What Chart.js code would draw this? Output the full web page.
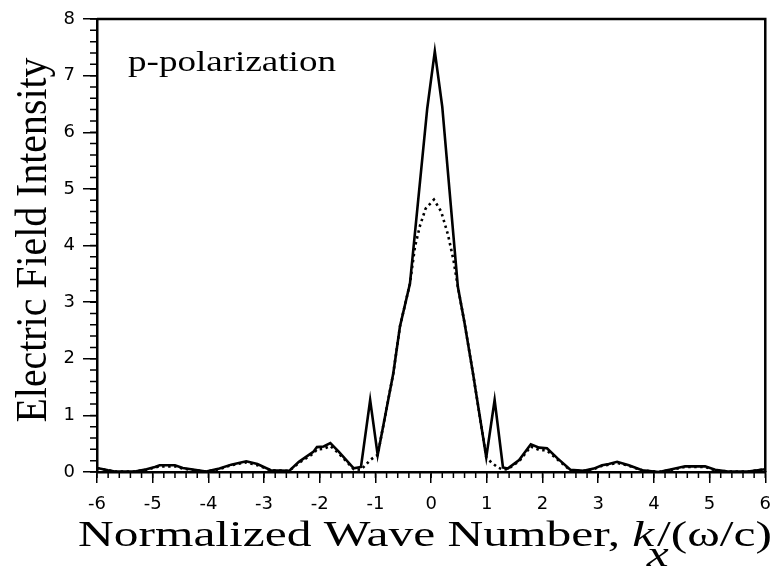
<!DOCTYPE html>
<html>
<head>
<meta charset="utf-8">
<script src="https://cdn.jsdelivr.net/npm/chart.js@4"></script>
<style>
  body { margin: 0; background: #fff; }
  #wrap { width: 782px; height: 569px; position: relative; }
</style>
</head>
<body>
<div id="wrap"><canvas id="fieldChart"></canvas></div>
<script>
// solid curve
const kSolid = [-6, -5.8, -5.68, -5.32, -5.11, -4.96, -4.875, -4.6, -4.46, -4.25, -4.04, -3.8, -3.59, -3.32, -3.12,
  -2.88, -2.55, -2.375, -2.11, -2.05, -1.93, -1.81, -1.66, -1.39, -1.26, -1.095, -0.96, -0.68, -0.56, -0.38,
  -0.07, 0.066, 0.2, 0.48, 0.6, 0.75, 0.99, 1.14, 1.29, 1.375, 1.58, 1.79, 1.94, 2.08, 2.27, 2.5, 2.74, 2.92,
  3.07, 3.19, 3.34, 3.55, 3.79, 4.09, 4.32, 4.56, 4.92, 5.1, 5.33, 5.69, 5.93, 6.0];
const eSolid = [0.07, 0.03, 0.01, 0.01, 0.05, 0.09, 0.12, 0.12, 0.07, 0.04, 0.01, 0.06, 0.13, 0.19, 0.14,
  0.03, 0.02, 0.18, 0.36, 0.44, 0.45, 0.51, 0.36, 0.065, 0.09, 1.27, 0.30, 1.74, 2.57, 3.33,
  6.42, 7.43, 6.45, 3.27, 2.63, 1.75, 0.26, 1.27, 0.08, 0.06, 0.21, 0.49, 0.43, 0.42, 0.24, 0.04, 0.02, 0.06,
  0.12, 0.14, 0.18, 0.12, 0.03, 0.0, 0.05, 0.10, 0.10, 0.04, 0.01, 0.01, 0.04, 0.05];

// dotted curve
const kDotted = [-6, -5.8, -5.68, -5.32, -5.11, -4.96, -4.875, -4.6, -4.46, -4.25, -4.04, -3.8, -3.59, -3.32, -3.12,
  -2.88, -2.55, -2.375, -2.11, -2.05, -1.93, -1.81, -1.66, -1.39, -1.26, -1.18, -1.095, -1.0, -0.96, -0.68,
  -0.56, -0.38, -0.29, -0.2, -0.1, 0.05, 0.18, 0.3, 0.4, 0.48, 0.6, 0.75, 0.99, 1.08, 1.2,
  1.29, 1.375, 1.58, 1.79, 1.94, 2.08, 2.27, 2.5, 2.74, 2.92, 3.07, 3.19, 3.34, 3.55, 3.79,
  4.09, 4.32, 4.56, 4.92, 5.1, 5.33, 5.69, 5.93, 6.0];
const eDotted = [0.07, 0.03, 0.01, 0.01, 0.04, 0.08, 0.10, 0.10, 0.06, 0.03, 0.01, 0.05, 0.12, 0.17, 0.12,
  0.03, 0.02, 0.16, 0.33, 0.40, 0.41, 0.46, 0.33, 0.05, 0.04, 0.12, 0.21, 0.28, 0.30, 1.74,
  2.57, 3.33, 3.98, 4.35, 4.65, 4.81, 4.6, 4.2, 3.75, 3.27, 2.63, 1.75, 0.26, 0.17, 0.08,
  0.04, 0.05, 0.19, 0.45, 0.39, 0.38, 0.22, 0.03, 0.02, 0.05, 0.11, 0.13, 0.16, 0.11, 0.03,
  0.0, 0.04, 0.09, 0.09, 0.03, 0.01, 0.01, 0.04, 0.05];

const xRange = [-6, 6];
const yRange = [0, 8];
const minorStep = 0.2;

const xTitle = ['Normalized Wave Number, ', 'k', 'x', '/(\u03c9/c)'];
const yTitle = 'Electric Field Intensity';
const panelLabel = 'p-polarization';

const toPoints = (ks, vs) => ks.map((k, i) => ({ x: k, y: vs[i] }));

const serif = '"Liberation Serif", "Times New Roman", serif';

// frame, minor ticks and the stretched serif texts
const decor = {
  id: 'decor',
  afterDraw(chart) {
    const ctx = chart.ctx;
    const a = chart.chartArea;
    const xs = chart.scales.x, ys = chart.scales.y;
    ctx.save();
    ctx.strokeStyle = '#000';
    ctx.lineWidth = 2.5;
    ctx.beginPath();
    ctx.moveTo(a.left, a.top); ctx.lineTo(a.right, a.top); ctx.lineTo(a.right, a.bottom);
    ctx.stroke();

    ctx.lineWidth = 1.5;
    ctx.beginPath();
    for (let v = xRange[0]; v <= xRange[1] + 1e-9; v += minorStep) {
      const px = xs.getPixelForValue(v);
      ctx.moveTo(px, a.bottom); ctx.lineTo(px, a.bottom + 6);
    }
    for (let v = yRange[0]; v <= yRange[1] + 1e-9; v += minorStep) {
      const py = ys.getPixelForValue(v);
      ctx.moveTo(a.left, py); ctx.lineTo(a.left - 7, py);
    }
    ctx.stroke();

    ctx.fillStyle = '#000';
    ctx.textBaseline = 'alphabetic';

    // x title
    const fN = '36px ' + serif, fI = 'italic 36px ' + serif;
    ctx.font = fN; const w0 = ctx.measureText(xTitle[0]).width, w3 = ctx.measureText(xTitle[3]).width;
    ctx.font = fI; const wk = ctx.measureText(xTitle[1]).width, wx = ctx.measureText(xTitle[2]).width;
    const total = w0 + wk + 2 + w3;
    const sx = 694 / total;
    ctx.save();
    ctx.translate(78, 546);
    ctx.scale(sx, 1);
    ctx.textAlign = 'left';
    ctx.font = fN; ctx.fillText(xTitle[0], 0, 0);
    ctx.font = fI; ctx.fillText(xTitle[1], w0, 0);
    ctx.fillText(xTitle[2], w0 + wk - wx * 0.35, 20);
    ctx.font = fN; ctx.fillText(xTitle[3], w0 + wk + 2, 0);
    ctx.restore();

    // y title
    ctx.save();
    ctx.font = '40px ' + serif;
    const wy = ctx.measureText(yTitle).width;
    ctx.translate(46, 240);
    ctx.rotate(-Math.PI / 2);
    ctx.scale(365 / wy, 1.1);
    ctx.textAlign = 'center';
    ctx.fillText(yTitle, 0, 0);
    ctx.restore();

    // panel label
    ctx.save();
    ctx.font = '29px ' + serif;
    const wp = ctx.measureText(panelLabel).width;
    ctx.translate(128, 71);
    ctx.scale(208 / wp, 1);
    ctx.textAlign = 'left';
    ctx.fillText(panelLabel, 0, 0);
    ctx.restore();

    ctx.restore();
  }
};

const tickFont = { family: '"DejaVu Sans", sans-serif', size: 18 };

new Chart(document.getElementById('fieldChart').getContext('2d'), {
  type: 'line',
  data: {
    datasets: [{
      data: toPoints(kSolid, eSolid),
      borderColor: '#000',
      borderWidth: 2.6,
      pointRadius: 0,
      tension: 0,
      fill: false
    }, {
      data: toPoints(kDotted, eDotted),
      borderColor: '#000',
      borderWidth: 2.6,
      borderDash: [2.5, 3.5],
      pointRadius: 0,
      tension: 0,
      fill: false
    }]
  },
  options: {
    responsive: true,
    maintainAspectRatio: false,
    animation: false,
    layout: { padding: { left: 0, top: 19, right: 13, bottom: 0 } },
    plugins: { legend: { display: false }, tooltip: { enabled: false } },
    scales: {
      x: {
        type: 'linear',
        min: xRange[0],
        max: xRange[1],
        afterFit: s => { s.height = 97; },
        grid: { drawOnChartArea: false, color: '#000', lineWidth: 1.5, tickLength: 11 },
        border: { color: '#000', width: 2.5 },
        ticks: { stepSize: 1, color: '#000', font: tickFont, padding: 11, maxRotation: 0 }
      },
      y: {
        min: yRange[0],
        max: yRange[1],
        afterFit: s => { s.width = 97; },
        grid: { drawOnChartArea: false, color: '#000', lineWidth: 1.5, tickLength: 14 },
        border: { color: '#000', width: 2.5 },
        ticks: { stepSize: 1, color: '#000', font: tickFont, padding: 8 }
      }
    }
  },
  plugins: [decor]
});
</script>
</body>
</html>
